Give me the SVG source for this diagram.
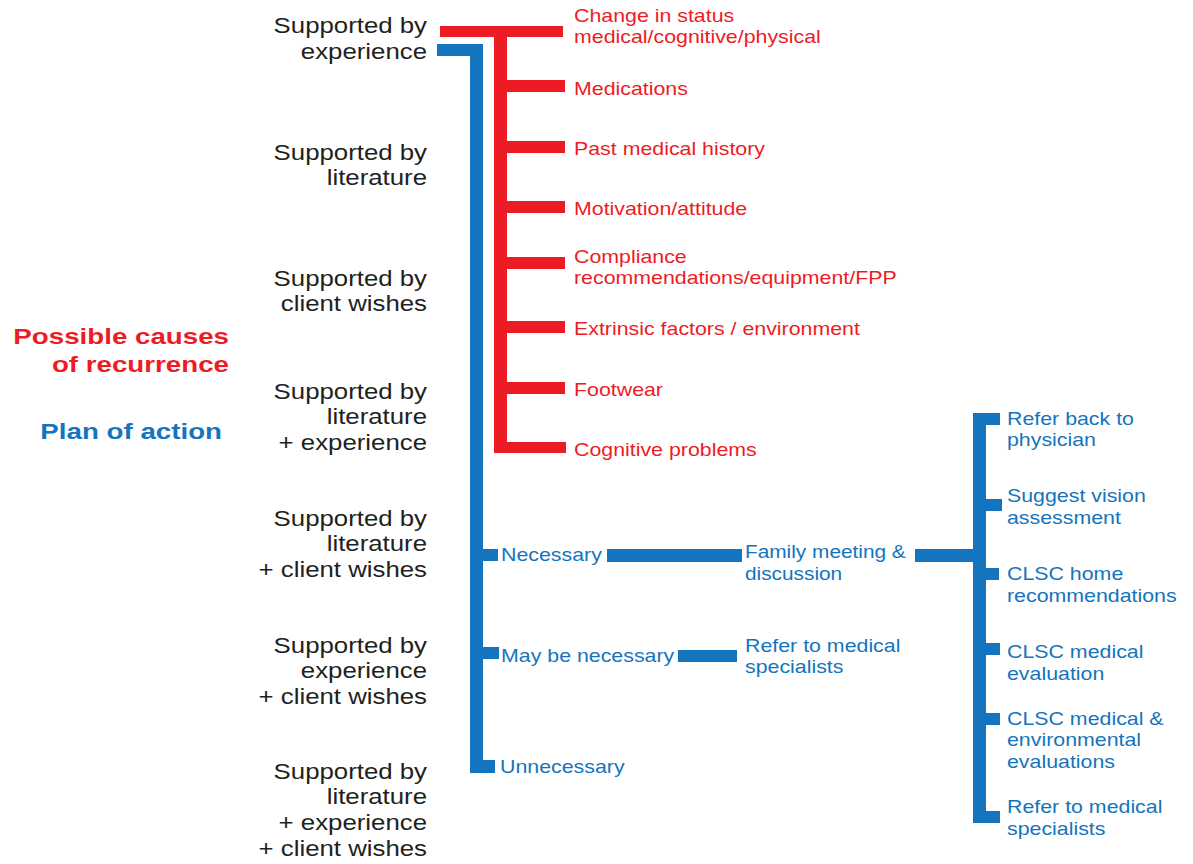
<svg xmlns="http://www.w3.org/2000/svg" width="1193" height="864" viewBox="0 0 1193 864">
  <style>
    .bg { fill: #ffffff; }
    .red { fill: #ED1C24; }
    .blue { fill: #1474BD; }
    .lbl { font-family: "Liberation Sans", Arial, sans-serif; font-size: 21.5px; fill: #231F20; text-anchor: end; }
    .rt { font-family: "Liberation Sans", Arial, sans-serif; font-size: 17.5px; fill: #ED1C24; }
    .bt { font-family: "Liberation Sans", Arial, sans-serif; font-size: 17.5px; fill: #1474BD; }
    .head { font-family: "Liberation Sans", Arial, sans-serif; font-size: 22px; font-weight: bold; text-anchor: end; }
  </style>
  <rect class="bg" x="0" y="0" width="1193" height="864"/>

  <!-- connectors -->
  <g id="connectors">
    <!-- red tree: possible causes -->
    <g class="red">
      <rect x="440" y="26" width="123" height="11"/>
      <rect x="494" y="26" width="13" height="427"/>
      <rect x="494" y="80" width="71" height="12"/>
      <rect x="494" y="141" width="71" height="12"/>
      <rect x="494" y="201" width="71" height="12"/>
      <rect x="494" y="257" width="71" height="12"/>
      <rect x="494" y="321" width="71" height="12"/>
      <rect x="494" y="382" width="71" height="12"/>
      <rect x="494" y="442" width="72" height="11"/>
    </g>
    <!-- blue tree: plan of action -->
    <g class="blue">
      <rect x="437" y="44" width="46" height="12"/>
      <rect x="470" y="44" width="13" height="729"/>
      <rect x="470" y="549" width="28" height="12"/>
      <rect x="470" y="647" width="29" height="12"/>
      <rect x="470" y="760" width="25" height="13"/>
      <rect x="607" y="549" width="135" height="13"/>
      <rect x="678" y="650" width="59" height="12"/>
      <rect x="915" y="549" width="60" height="13"/>
      <rect x="973" y="413" width="13" height="410"/>
      <rect x="973" y="413" width="27" height="12"/>
      <rect x="973" y="499" width="29" height="12"/>
      <rect x="973" y="568" width="26" height="12"/>
      <rect x="973" y="643" width="27" height="12"/>
      <rect x="973" y="713" width="27" height="12"/>
      <rect x="973" y="811" width="27" height="12"/>
    </g>
  </g>

  <!-- headings -->
  <g id="heading-causes">
    <text class="head" fill="#ED1C24" transform="translate(229,343.5) scale(1.26,1)">Possible causes</text>
    <text class="head" fill="#ED1C24" transform="translate(229,372) scale(1.26,1)">of recurrence</text>
  </g>
  <g id="heading-plan">
    <text class="head" fill="#1474BD" transform="translate(222,439) scale(1.26,1)">Plan of action</text>
  </g>

  <!-- evidence labels -->
  <g id="support-1">
    <text class="lbl" transform="translate(427,33) scale(1.2,1)"><tspan x="0" y="0">Supported by</tspan><tspan x="0" y="26">experience</tspan></text>
  </g>
  <g id="support-2">
    <text class="lbl" transform="translate(427,159.5) scale(1.2,1)"><tspan x="0" y="0">Supported by</tspan><tspan x="0" y="26">literature</tspan></text>
  </g>
  <g id="support-3">
    <text class="lbl" transform="translate(427,285.5) scale(1.2,1)"><tspan x="0" y="0">Supported by</tspan><tspan x="0" y="26">client wishes</tspan></text>
  </g>
  <g id="support-4">
    <text class="lbl" transform="translate(427,398.5) scale(1.2,1)"><tspan x="0" y="0">Supported by</tspan><tspan x="0" y="26">literature</tspan><tspan x="0" y="52">+ experience</tspan></text>
  </g>
  <g id="support-5">
    <text class="lbl" transform="translate(427,525.5) scale(1.2,1)"><tspan x="0" y="0">Supported by</tspan><tspan x="0" y="26">literature</tspan><tspan x="0" y="52">+ client wishes</tspan></text>
  </g>
  <g id="support-6">
    <text class="lbl" transform="translate(427,652.5) scale(1.2,1)"><tspan x="0" y="0">Supported by</tspan><tspan x="0" y="26">experience</tspan><tspan x="0" y="52">+ client wishes</tspan></text>
  </g>
  <g id="support-7">
    <text class="lbl" transform="translate(427,778.5) scale(1.2,1)"><tspan x="0" y="0">Supported by</tspan><tspan x="0" y="26">literature</tspan><tspan x="0" y="52">+ experience</tspan><tspan x="0" y="78">+ client wishes</tspan></text>
  </g>

  <!-- causes -->
  <g id="cause-status">
    <text class="rt" transform="translate(574,21.5) scale(1.22,1)"><tspan x="0" y="0">Change in status</tspan><tspan x="0" y="22">medical/cognitive/physical</tspan></text>
  </g>
  <g id="cause-medications">
    <text class="rt" transform="translate(574,95) scale(1.22,1)">Medications</text>
  </g>
  <g id="cause-history">
    <text class="rt" transform="translate(574,155) scale(1.22,1)">Past medical history</text>
  </g>
  <g id="cause-motivation">
    <text class="rt" transform="translate(574,215) scale(1.22,1)">Motivation/attitude</text>
  </g>
  <g id="cause-compliance">
    <text class="rt" transform="translate(574,262.5) scale(1.22,1)"><tspan x="0" y="0">Compliance</tspan><tspan x="0" y="22">recommendations/equipment/FPP</tspan></text>
  </g>
  <g id="cause-extrinsic">
    <text class="rt" transform="translate(574,335) scale(1.22,1)">Extrinsic factors / environment</text>
  </g>
  <g id="cause-footwear">
    <text class="rt" transform="translate(574,396) scale(1.22,1)">Footwear</text>
  </g>
  <g id="cause-cognitive">
    <text class="rt" transform="translate(574,456) scale(1.22,1)">Cognitive problems</text>
  </g>

  <!-- plan of action -->
  <g id="plan-necessary">
    <text class="bt" transform="translate(501,561) scale(1.22,1)">Necessary</text>
  </g>
  <g id="plan-maybe">
    <text class="bt" transform="translate(501,661.5) scale(1.22,1)">May be necessary</text>
  </g>
  <g id="plan-unnecessary">
    <text class="bt" transform="translate(500,773) scale(1.22,1)">Unnecessary</text>
  </g>
  <g id="family-meeting">
    <text class="bt" transform="translate(745,558) scale(1.19,1)"><tspan x="0" y="0">Family meeting &amp;</tspan><tspan x="0" y="22">discussion</tspan></text>
  </g>
  <g id="refer-specialists-a">
    <text class="bt" transform="translate(745,651.5) scale(1.22,1)"><tspan x="0" y="0">Refer to medical</tspan><tspan x="0" y="22">specialists</tspan></text>
  </g>
  <g id="refer-physician">
    <text class="bt" transform="translate(1007,424.5) scale(1.22,1)"><tspan x="0" y="0">Refer back to</tspan><tspan x="0" y="22">physician</tspan></text>
  </g>
  <g id="vision">
    <text class="bt" transform="translate(1007,502) scale(1.22,1)"><tspan x="0" y="0">Suggest vision</tspan><tspan x="0" y="22">assessment</tspan></text>
  </g>
  <g id="clsc-home">
    <text class="bt" transform="translate(1007,580) scale(1.22,1)"><tspan x="0" y="0">CLSC home</tspan><tspan x="0" y="22">recommendations</tspan></text>
  </g>
  <g id="clsc-medical">
    <text class="bt" transform="translate(1007,658) scale(1.22,1)"><tspan x="0" y="0">CLSC medical</tspan><tspan x="0" y="22">evaluation</tspan></text>
  </g>
  <g id="clsc-environment">
    <text class="bt" transform="translate(1007,724.5) scale(1.22,1)"><tspan x="0" y="0">CLSC medical &amp;</tspan><tspan x="0" y="22">environmental</tspan><tspan x="0" y="44">evaluations</tspan></text>
  </g>
  <g id="refer-specialists-b">
    <text class="bt" transform="translate(1007,813) scale(1.22,1)"><tspan x="0" y="0">Refer to medical</tspan><tspan x="0" y="22">specialists</tspan></text>
  </g>
</svg>
